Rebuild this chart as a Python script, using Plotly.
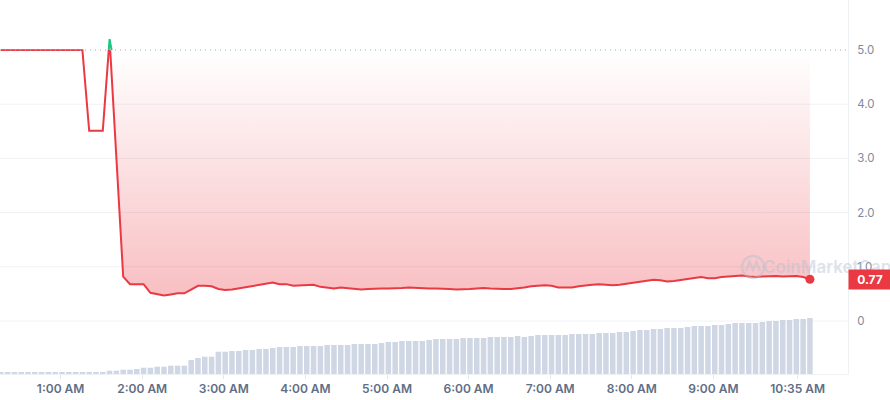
import plotly.graph_objects as go
import pandas as pd

# ---------------- data ----------------
BASE_PRICE = 5.0  # opening price (dotted baseline)

price = [
    5.0, 5.0, 5.0, 5.0, 5.0, 5.0, 5.0, 5.0, 5.0, 5.0, 5.0, 5.0, 5.0,
    3.51, 3.51, 3.51, 5.2, 3.0, 0.82, 0.68, 0.68, 0.68,
    0.52, 0.49, 0.47, 0.49, 0.51, 0.51, 0.58, 0.65, 0.65, 0.64, 0.59, 0.57, 0.58, 0.60,
    0.62, 0.64, 0.66, 0.69, 0.71, 0.68, 0.68,
    0.65, 0.66, 0.67, 0.67, 0.63, 0.61, 0.60, 0.62, 0.61, 0.59, 0.58, 0.59, 0.60, 0.60,
    0.60, 0.60, 0.61, 0.62, 0.61, 0.60, 0.60, 0.60, 0.60, 0.59, 0.58, 0.58,
    0.59, 0.60, 0.61, 0.60, 0.59, 0.59, 0.59, 0.60, 0.62, 0.64, 0.65, 0.66, 0.65, 0.62,
    0.62, 0.62, 0.64, 0.66, 0.67, 0.68, 0.67, 0.66, 0.67, 0.69, 0.71,
    0.72, 0.75, 0.76, 0.75, 0.73, 0.74, 0.76, 0.77, 0.79, 0.81, 0.79, 0.79, 0.81, 0.82,
    0.84, 0.84, 0.82, 0.81, 0.82, 0.83, 0.83, 0.82, 0.83, 0.83, 0.81, 0.77,
]

volume = [
    1.3, 1.3, 1.3, 1.3, 1.3, 1.3, 1.3, 1.3, 1.3, 1.3, 1.3, 1.3, 1.3, 1.3, 1.3, 1.3,
    3.3, 3.3, 4.3, 4.3, 5, 6.3, 6.3, 7.3, 7.3, 8.3, 8.3, 8.3, 14, 16, 17.3, 17.3,
    22.3, 22.3, 23, 23, 24, 24, 25, 25, 26, 27, 27, 27, 28, 28, 28, 28, 29, 29, 29, 29,
    30, 30, 30, 30, 31, 32, 32, 33, 33, 33, 33, 34, 35, 35, 35, 35, 36, 36, 36, 36,
    37, 37, 37, 37, 38, 37, 38, 39, 39, 39, 39, 39, 40, 40, 40, 40, 41, 41, 41, 42,
    42, 43, 44, 44, 45, 45, 46, 46, 46, 47, 48, 48, 48, 49, 49, 50, 51, 51, 51, 51,
    52, 53, 53, 54, 54, 55, 55, 56,
]

times = pd.date_range("2024-05-20 00:16", periods=len(price), freq="5min")

tick_vals = ["2024-05-20 01:00", "2024-05-20 02:00", "2024-05-20 03:00",
             "2024-05-20 04:00", "2024-05-20 05:00", "2024-05-20 06:00",
             "2024-05-20 07:00", "2024-05-20 08:00", "2024-05-20 09:00",
             "2024-05-20 10:02"]
tick_text = ["1:00 AM", "2:00 AM", "3:00 AM", "4:00 AM", "5:00 AM", "6:00 AM",
             "7:00 AM", "8:00 AM", "9:00 AM", "10:35 AM"]

price_ticks = [0, 1, 2, 3, 4, 5]
price_tick_text = ["0", "1.0", "2.0", "3.0", "4.0", "5.0"]

# ---------------- styling ----------------
RED = "#ea3943"
GREEN = "#16c784"
GRID = "#eff2f5"
Y_MIN, Y_MAX = -0.978, 5.923
X_RANGE = ["2024-05-20 00:15:25", "2024-05-20 10:39:00"]
FILL_START = 16  # fill begins after the spike

fig = go.Figure()

# volume bars
fig.add_trace(go.Bar(
    x=times, y=volume, yaxis="y2",
    marker=dict(color="#cfd6e4", line=dict(width=0)),
    hoverinfo="skip", showlegend=False,
))

# baseline for area fill
fig.add_trace(go.Scatter(
    x=times[FILL_START:], y=[BASE_PRICE] * (len(price) - FILL_START),
    mode="lines", line=dict(width=0), hoverinfo="skip", showlegend=False,
))
# gradient fill between baseline and price
fig.add_trace(go.Scatter(
    x=times[FILL_START:], y=price[FILL_START:],
    mode="lines", line=dict(width=0), fill="tonexty",
    fillgradient=dict(
        type="vertical",
        colorscale=[[0, "rgba(234,57,67,0.32)"], [1, "rgba(234,57,67,0)"]],
        start=0.5, stop=BASE_PRICE,
    ),
    hoverinfo="skip", showlegend=False,
))

# red price line
fig.add_trace(go.Scatter(
    x=times, y=price, mode="lines",
    line=dict(color=RED, width=2), showlegend=False,
))
# last-point dot
fig.add_trace(go.Scatter(
    x=[times[-1]], y=[price[-1]], mode="markers",
    marker=dict(color=RED, size=9), showlegend=False,
))
# green part above baseline (clipped by a subplot covering only y >= base)
fig.add_trace(go.Scatter(
    x=times, y=price, mode="lines", yaxis="y3",
    line=dict(color=GREEN, width=2), showlegend=False, hoverinfo="skip",
))

base_frac = (BASE_PRICE - Y_MIN) / (Y_MAX - Y_MIN)

shapes = []
for v in price_ticks:
    if v < BASE_PRICE:
        shapes.append(dict(type="line", xref="paper", x0=0, x1=1, yref="y", y0=v, y1=v,
                           line=dict(color=GRID, width=1), layer="below"))
shapes.append(dict(type="line", xref="paper", x0=0, x1=1, yref="y",
                   y0=BASE_PRICE, y1=BASE_PRICE,
                   line=dict(color="#a3abbd", width=1, dash="1px,4px"), layer="above"))

# watermark logo (pixel -> paper helpers)
PW, PH = 848.0, 374.0
def px(xp):
    return xp / PW
def py(yp):
    return (PH - yp) / PH

WM = "rgba(180,190,208,0.45)"
shapes.append(dict(type="circle", xref="paper", yref="paper",
                   x0=px(742), x1=px(764), y0=py(278), y1=py(256),
                   line=dict(color=WM, width=2.5), layer="above"))
path = "M {},{} L {},{} L {},{} L {},{} L {},{}".format(
    px(746), py(271), px(749.5), py(262), px(753), py(270), px(756.5), py(262), px(760), py(271))
shapes.append(dict(type="path", xref="paper", yref="paper", path=path,
                   line=dict(color=WM, width=2.5), layer="above"))

fig.update_layout(
    width=890, height=400,
    margin=dict(l=0, r=42, t=0, b=26),
    paper_bgcolor="white", plot_bgcolor="white",
    font=dict(family="Inter", size=12, color="#58667e"),
    bargap=0.19,
    showlegend=False,
    shapes=shapes,
    xaxis=dict(
        type="date", range=X_RANGE,
        tickvals=tick_vals, ticktext=tick_text,
        ticks="outside", ticklen=4, tickcolor="#e3e7ee",
        showline=True, linecolor=GRID, linewidth=1,
        showgrid=False, zeroline=False,
        tickfont=dict(family="Inter", size=12, color="#616e85", weight=600),
        anchor="y",
    ),
    yaxis=dict(
        side="right", range=[Y_MIN, Y_MAX],
        tickvals=price_ticks, ticktext=price_tick_text,
        showgrid=False, zeroline=False,
        showline=True, linecolor=GRID, linewidth=1,
        ticks="", ticklabelstandoff=6,
        tickfont=dict(family="Inter", size=11.5, color="#808a9d"),
    ),
    yaxis2=dict(overlaying="y", range=[0, 374], visible=False),
    yaxis3=dict(domain=[base_frac, 1], range=[BASE_PRICE, Y_MAX], visible=False, anchor="x"),
    annotations=[
        dict(
            xref="paper", yref="paper", x=px(827), y=py(267), xanchor="center", yanchor="middle",
            text="CoinMarketCap", showarrow=False,
            font=dict(color=WM, size=17, family="Inter", weight=600),
        ),
        dict(
            xref="paper", x=1, xanchor="left", yref="y", y=price[-1], yanchor="middle",
            text="<b>{:.2f}</b>".format(price[-1]), showarrow=False,
            bgcolor=RED, font=dict(color="white", size=12, family="Inter"),
            width=40, height=17, borderpad=1, align="center",
        ),
    ],
)

fig.write_html(
    "out.html",
    include_plotlyjs=True,
    config={"displayModeBar": False},
    post_script="document.body.style.margin='0';document.body.style.overflow='hidden';",
)
